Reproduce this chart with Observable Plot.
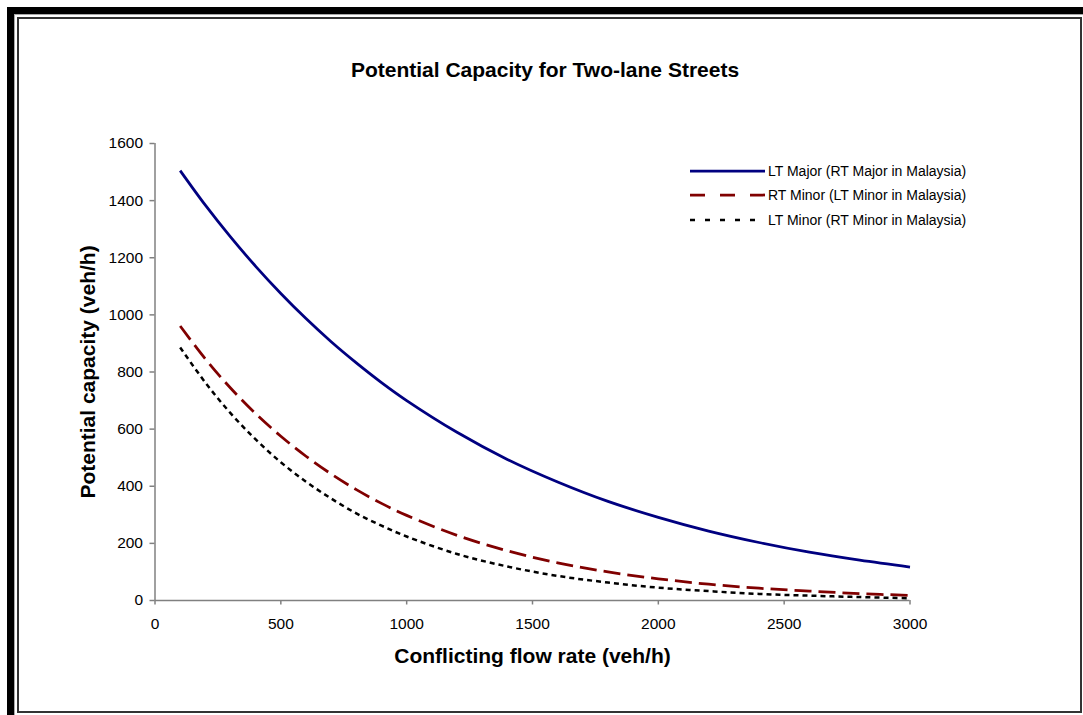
<!DOCTYPE html>
<html><head><meta charset="utf-8">
<script src="https://cdn.jsdelivr.net/npm/d3@7"></script>
<script src="https://cdn.jsdelivr.net/npm/@observablehq/plot@0.6"></script>
<style>
body{margin:0;background:#fff;font-family:Arial,"Liberation Sans",sans-serif}
#wrap{position:relative;width:1083px;height:715px;overflow:hidden;background:#fff}
.blk{position:absolute;background:#000}
#frame{position:absolute;left:17px;top:17px;width:1065px;height:696px;box-sizing:border-box;border:2px solid #333}
#lining{position:absolute;left:14px;top:14px;width:1070px;height:705px;box-sizing:border-box;border-top:1px solid #aaa;border-left:1px solid #aaa}
#title{position:absolute;left:0;top:59px;width:1090px;text-align:center;font:bold 21px/21px Arial,"Liberation Sans",sans-serif;color:#000}
#chart{position:absolute;left:20px;top:100px}
#legend{position:absolute;left:680px;top:155px}
</style></head><body>
<div id="wrap">
  <div class="blk" style="left:7px;top:7px;width:1076px;height:7px"></div>
  <div class="blk" style="left:7px;top:7px;width:7px;height:708px"></div>
  <div id="lining"></div>
  <div id="frame"></div>
  <div id="title">Potential Capacity for Two-lane Streets</div>
  <div id="chart"></div>
  <div id="legend"></div>
</div>
<script>
// Conflicting flow rate (veh/h)
const flow = [100,200,300,400,500,600,700,800,900,1000,1200,1400,1600,1800,2000,2200,2400,2600,2800,3000];
// Potential capacity (veh/h)
const ltMajor = [1505,1384,1273,1170,1075,987,906,832,763,700,589,494,415,347,291,243,203,169,141,117];
const rtMinor = [961,846,744,654,575,505,443,388,340,298,228,174,132,100,76,57,43,33,24,18];
const ltMinor = [886,763,656,564,484,416,357,305,262,224,163,119,86,63,45,33,23,17,12,8];
const seriesNames = ["LT Major (RT Major in Malaysia)","RT Minor (LT Minor in Malaysia)","LT Minor (RT Minor in Malaysia)"];
const seriesColors = ["#000080","#800000","#000000"];
const seriesDash = [null,"17,7","5,4"];
const seriesWidth = [2.75,2.75,2.5];
const xTicks = [0,500,1000,1500,2000,2500,3000];
const yTicks = [0,200,400,600,800,1000,1200,1400,1600];
const title = "Potential Capacity for Two-lane Streets";
const xLabel = "Conflicting flow rate (veh/h)";
const yLabel = "Potential capacity (veh/h)";

const seriesValues = [ltMajor, rtMinor, ltMinor];
const tables = seriesValues.map((vals, i) => flow.map((f, j) => ({flow: f, cap: vals[j], series: seriesNames[i]})));

const W = 1040, H = 580;
const chart = Plot.plot({
  width: W, height: H,
  marginLeft: 134.5, marginRight: 150.5, marginTop: 43, marginBottom: 80,
  style: {fontFamily: 'Arial, "Liberation Sans", sans-serif', background: "transparent", color: "#000"},
  x: {domain: [0, 3000]},
  y: {domain: [0, 1600]},
  marks: [
    Plot.axisX({ticks: xTicks, tickSize: 4.5, tickPadding: 12.5, fontSize: 15.5, stroke: "#808080", strokeWidth: 1.5, strokeOpacity: 1, label: null, tickFormat: d => String(d), fill: "#000"}),
    Plot.axisY({ticks: yTicks, tickSize: 5, tickPadding: 7, fontSize: 15.5, stroke: "#808080", strokeWidth: 1.5, strokeOpacity: 1, label: null, tickFormat: d => String(d), fill: "#000"}),
    Plot.ruleX([0], {stroke: "#808080", strokeWidth: 1.5}),
    Plot.ruleY([0], {stroke: "#808080", strokeWidth: 1.5}),
    ...tables.map((t, i) => Plot.line(t, {x: "flow", y: "cap", stroke: seriesColors[i], strokeWidth: seriesWidth[i], strokeDasharray: seriesDash[i], curve: "catmull-rom", strokeLinecap: "butt"})),
    Plot.text([yLabel], {text: d => d, frameAnchor: "left", textAnchor: "middle", lineAnchor: "middle", dx: -66.5, rotate: -90, fontSize: 21, fontWeight: "bold", fill: "#000"}),
    Plot.text([xLabel], {text: d => d, frameAnchor: "bottom", textAnchor: "middle", lineAnchor: "middle", dx: 0, dy: 56, fontSize: 21, fontWeight: "bold", fill: "#000"})
  ]
});
document.getElementById("chart").appendChild(chart);

// Legend
const ns = "http://www.w3.org/2000/svg";
const lg = document.createElementNS(ns, "svg");
lg.setAttribute("width", 320); lg.setAttribute("height", 80);
const rowY = [16, 40, 65];
const legDash = [null, "15,15", "5,10"];
seriesNames.forEach((name, i) => {
  const ln = document.createElementNS(ns, "line");
  ln.setAttribute("x1", 10); ln.setAttribute("x2", 85);
  ln.setAttribute("y1", rowY[i]); ln.setAttribute("y2", rowY[i]);
  ln.setAttribute("stroke", seriesColors[i]); ln.setAttribute("stroke-width", seriesWidth[i]);
  if (legDash[i]) ln.setAttribute("stroke-dasharray", legDash[i]);
  lg.appendChild(ln);
  const tx = document.createElementNS(ns, "text");
  tx.setAttribute("x", 88); tx.setAttribute("y", rowY[i]); tx.setAttribute("dy", "0.35em");
  tx.setAttribute("font-size", 14); tx.setAttribute("font-family", 'Arial, "Liberation Sans", sans-serif');
  tx.textContent = name;
  lg.appendChild(tx);
});
document.getElementById("legend").appendChild(lg);
</script>
</body></html>
